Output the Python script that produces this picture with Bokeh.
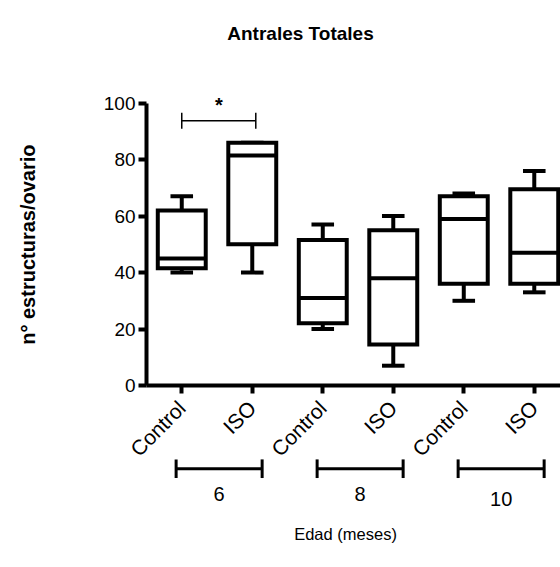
import math
from bokeh.plotting import figure
from bokeh.models import Range1d, FixedTicker
from bokeh.core.properties import value
from bokeh.embed import file_html
from bokeh.resources import INLINE

# ---- data ----
categories = ["Control", "ISO", "Control", "ISO", "Control", "ISO"]
groups = ["6", "8", "10"]
whisker_low = [40, 40, 20, 7, 30, 33]
q1 = [41.5, 50, 22, 14.5, 36, 36]
median = [45, 81.5, 31, 38, 59, 47]
q3 = [62, 86, 51.5, 55, 67, 69.5]
whisker_high = [67, 86, 57, 60, 68, 76]
y_ticks = [0, 20, 40, 60, 80, 100]
sig_value = 93.8
sig_pair = [0, 1]

FONT = "Liberation Sans"
INK = "black"

xpos = [i + 0.5 for i in range(len(categories))]
bw = 0.34
cw = 0.16

p = figure(width=560, height=567, output_backend="svg", toolbar_location=None,
           x_range=Range1d(-2.071, 5.872), y_range=Range1d(-64.5, 136.4),
           min_border_left=0, min_border_right=0, min_border_top=0, min_border_bottom=0)
p.outline_line_color = None
p.xgrid.visible = False
p.ygrid.visible = False

# y axis
ya = p.yaxis[0]
ya.fixed_location = 0
ya.bounds = (0, 100)
ya.ticker = FixedTicker(ticks=y_ticks)
ya.axis_line_width = 4
ya.axis_line_color = INK
ya.major_tick_line_width = 4
ya.major_tick_line_color = INK
ya.major_tick_out = 8
ya.major_tick_in = 0
ya.minor_tick_line_color = None
ya.major_label_text_font = FONT
ya.major_label_text_font_size = "19px"
ya.major_label_text_color = INK
ya.major_label_standoff = 3

# x axis
xa = p.xaxis[0]
xa.fixed_location = 0
xa.bounds = (0, 6)
xa.ticker = FixedTicker(ticks=xpos)
xa.major_label_overrides = {x: c for x, c in zip(xpos, categories)}
xa.major_label_orientation = math.pi / 4
xa.axis_line_width = 4
xa.axis_line_color = INK
xa.major_tick_line_width = 4
xa.major_tick_line_color = INK
xa.major_tick_out = 8
xa.major_tick_in = 0
xa.minor_tick_line_color = None
xa.major_label_text_font = FONT
xa.major_label_text_font_size = "21px"
xa.major_label_text_color = INK
xa.major_label_standoff = 11

# whiskers
p.segment(x0=xpos, y0=q3, x1=xpos, y1=whisker_high, line_color=INK, line_width=4)
p.segment(x0=xpos, y0=whisker_low, x1=xpos, y1=q1, line_color=INK, line_width=4)
p.segment(x0=[x - cw for x in xpos], y0=whisker_high, x1=[x + cw for x in xpos], y1=whisker_high,
          line_color=INK, line_width=4)
p.segment(x0=[x - cw for x in xpos], y0=whisker_low, x1=[x + cw for x in xpos], y1=whisker_low,
          line_color=INK, line_width=4)
# boxes
p.quad(left=[x - bw for x in xpos], right=[x + bw for x in xpos], bottom=q1, top=q3,
       fill_color="white", line_color=INK, line_width=4, line_join="miter")
p.segment(x0=[x - bw for x in xpos], y0=median, x1=[x + bw for x in xpos], y1=median,
          line_color=INK, line_width=4)

# significance bracket
sx0 = xpos[sig_pair[0]]
sx1 = xpos[sig_pair[1]] + 0.05
p.segment(x0=[sx0], y0=[sig_value], x1=[sx1], y1=[sig_value], line_color=INK, line_width=1.5)
p.segment(x0=[sx0, sx1], y0=[sig_value - 2.8, sig_value - 2.8], x1=[sx0, sx1], y1=[sig_value + 2.8, sig_value + 2.8],
          line_color=INK, line_width=1.5)
p.text(x=[(sx0 + sx1) / 2], y=[sig_value + 1.6], text=["*"], text_font=value(FONT), text_color=INK,
       text_font_style="bold", text_font_size="20px", text_align="center", text_baseline="bottom")

# group brackets
gl = [2 * g + 0.42 for g in range(len(groups))]
gr = [2 * g + 1.64 for g in range(len(groups))]
gy = -29.5
p.segment(x0=gl, y0=[gy] * 3, x1=gr, y1=[gy] * 3, line_color=INK, line_width=3)
p.segment(x0=gl + gr, y0=[gy - 3.3] * 6, x1=gl + gr, y1=[gy + 3.3] * 6, line_color=INK, line_width=3)
p.text(x=[(a + b) / 2 for a, b in zip(gl, gr)], y=[-38.6, -38.6, -40.1], text=groups, text_font=value(FONT),
       text_color=INK, text_font_size="20px", text_align="center", text_baseline="alphabetic")

# title, axis labels
p.text(x=[2.184], y=[124.7], text=["Antrales Totales"], text_font=value(FONT), text_font_style="bold",
       text_color=INK, text_font_size="19px", text_align="center", text_baseline="middle")
p.text(x=[-1.674], y=[49.9], text=["n° estructuras/ovario"], text_font=value(FONT), text_font_style="bold",
       text_color=INK, text_font_size="20px", text_align="center", text_baseline="alphabetic", angle=math.pi / 2)
p.text(x=[2.823], y=[-52.8], text=["Edad (meses)"], text_font=value(FONT),
       text_color=INK, text_font_size="16.5px", text_align="center", text_baseline="middle")

open("out.html", "w").write(file_html(p, INLINE))
